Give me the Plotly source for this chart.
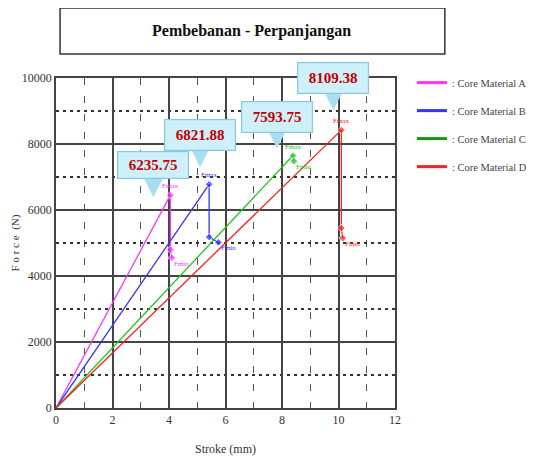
import plotly.graph_objects as go

# ---- data ----
names = ["Core Material A", "Core Material B", "Core Material C", "Core Material D"]
a_x = [0, 4.05, 4.05, 4.10]
a_y = [0, 6450, 4800, 4550]
b_x = [0, 5.42, 5.42, 5.75]
b_y = [0, 6780, 5180, 5020]
c_x = [0, 8.39, 8.42]
c_y = [0, 7650, 7480]
d_x = [0, 10.10, 10.10, 10.15]
d_y = [0, 8420, 5450, 5150]
peak_labels = ["6235.75", "6821.88", "7593.75", "8109.38"]
x_ticks = [0, 2, 4, 6, 8, 10, 12]
y_ticks = [0, 2000, 4000, 6000, 8000, 10000]

series_x = [a_x, b_x, c_x, d_x]
series_y = [a_y, b_y, c_y, d_y]
colors = ["#ff33ff", "#3535ff", "#22c422", "#ff2020"]
legend_colors = ["#ff33ff", "#3535ff", "#119911", "#ff2020"]

SERIF = "Liberation Serif"

fig = go.Figure()
for i in range(4):
    xs, ys = series_x[i], series_y[i]
    sizes = [0] + [6] * (len(xs) - 1)
    fig.add_trace(go.Scatter(
        x=xs, y=ys, mode="lines+markers", name=": " + names[i],
        legendgroup=names[i],
        line=dict(color=colors[i], width=1.3),
        marker=dict(color=colors[i], size=sizes, symbol="diamond"),
        showlegend=False,
    ))
    fig.add_trace(go.Scatter(
        x=[None], y=[None], mode="lines", name=": " + names[i],
        legendgroup=names[i],
        line=dict(color=legend_colors[i], width=3),
    ))

# callout offsets (pixels) from each peak to the arrow tip
shifts = [(-17, -2), (-9, 17), (-16, 7), (-8, 20)]
for i in range(4):
    xs, ys = series_x[i], series_y[i]
    px, py = xs[1], ys[1]
    fig.add_annotation(
        x=px, y=py, xref="x", yref="y", text="",
        showarrow=True, ax=0, ay=-30, arrowhead=2, arrowsize=0.8,
        arrowwidth=10, arrowcolor="#a9def0", standoff=0,
        xshift=shifts[i][0], yshift=shifts[i][1],
    )
    fig.add_annotation(
        x=px, y=py, xref="x", yref="y",
        text="<b>" + peak_labels[i] + "</b>",
        font=dict(family=SERIF, size=15, color="#c00000"),
        showarrow=False,
        bgcolor="#cdf0fa", bordercolor="#86c8de", borderwidth=1.2,
        width=68, height=24 if i == 0 else 28,
        xshift=shifts[i][0], yshift=shifts[i][1] + 32,
    )
    fig.add_annotation(x=px, y=py, text="Fmax", showarrow=False,
                       font=dict(family=SERIF, size=7, color=colors[i]),
                       yshift=9)
    fig.add_annotation(x=xs[-1], y=ys[-1], text="Fmin", showarrow=False,
                       font=dict(family=SERIF, size=7, color=colors[i]),
                       xshift=10, yshift=-6)

# title box
fig.add_shape(type="rect", xref="paper", yref="paper",
              x0=0.012, x1=1.147, y0=1.073, y1=1.212,
              line=dict(color="#333333", width=1.5), fillcolor="white")
fig.add_annotation(xref="paper", yref="paper", x=0.578, y=1.142,
                   xanchor="center", yanchor="middle",
                   text="<b>Pembebanan - Perpanjangan</b>", showarrow=False,
                   font=dict(family=SERIF, size=16, color="#111111"))

axis_common = dict(
    showline=True, linecolor="#444444", linewidth=1.5, mirror=True,
    showgrid=True, gridcolor="#444444", gridwidth=1.5,
    zeroline=False, ticks="", automargin=False,
    tickfont=dict(family=SERIF, size=12, color="#333333"),
)
fig.update_xaxes(
    range=[0, 12], tickvals=x_ticks, ticktext=[str(v) for v in x_ticks],
    minor=dict(dtick=1, showgrid=True, gridcolor="#555555", gridwidth=1.2,
               griddash="7px,11px"),
    title=dict(text="Stroke (mm)", font=dict(family=SERIF, size=12, color="#333333"),
               standoff=18),
    **axis_common,
)
fig.update_yaxes(
    range=[0, 10000], tickvals=y_ticks, ticktext=[str(v) for v in y_ticks],
    minor=dict(dtick=1000, showgrid=True, gridcolor="#333333", gridwidth=1.5,
               griddash="3px,4px"),
    title=dict(text="F o r c e  (N)", font=dict(family=SERIF, size=11, color="#333333"),
               standoff=0),
    **axis_common,
)

fig.update_layout(
    width=526, height=460,
    margin=dict(l=48, r=139, t=70, b=60, autoexpand=False),
    paper_bgcolor="white", plot_bgcolor="white",
    legend=dict(x=1.05, y=1.03, xanchor="left", yanchor="top",
                font=dict(family=SERIF, size=10.5, color="#444444"),
                tracegroupgap=9, bgcolor="rgba(0,0,0,0)"),
)

fig.write_html("out.html")
